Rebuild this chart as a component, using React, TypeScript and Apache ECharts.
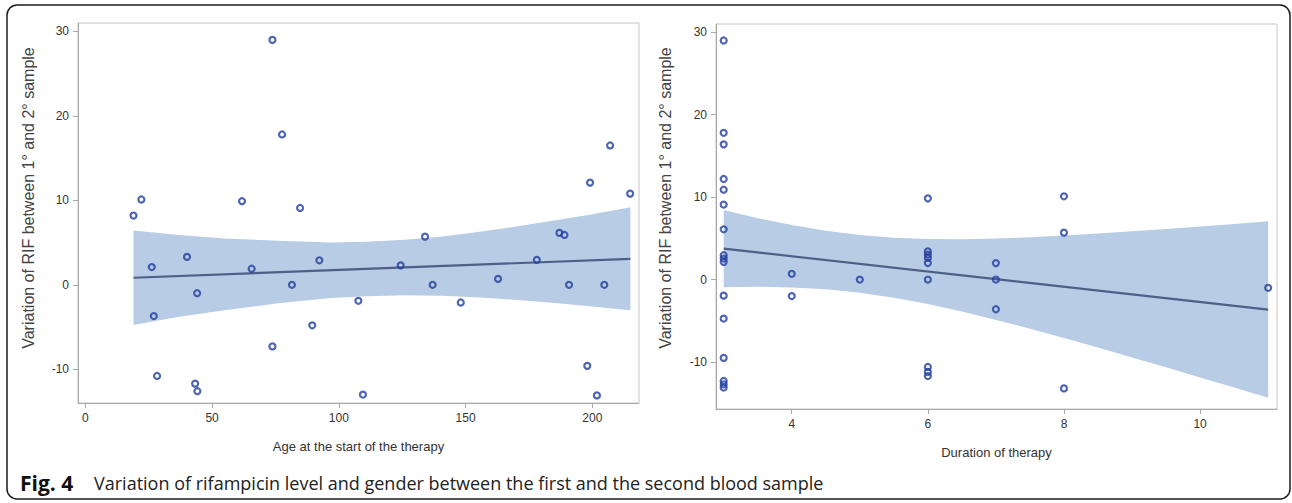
import React, { useEffect, useRef } from "react";
import * as echarts from "echarts";

// ---- Left panel: age at the start of therapy vs variation of RIF ----
const ageYears = [73.8, 77.6, 19.0, 22.1, 61.8, 84.7, 207, 199.1, 214.9, 134, 187, 189, 26.2, 40.1, 65.6, 81.5, 92.3, 44.1, 27, 89.5, 73.8, 28.3, 43.3, 44.2, 124.4, 178.1, 137, 162.8, 190.8, 204.7, 107.7, 148.1, 198, 109.5, 201.8];
const ageVariation = [29.0, 17.8, 8.2, 10.1, 9.9, 9.1, 16.5, 12.1, 10.8, 5.7, 6.15, 5.9, 2.1, 3.3, 1.9, 0.0, 2.9, -1.0, -3.7, -4.8, -7.3, -10.8, -11.7, -12.6, 2.3, 2.95, 0.0, 0.7, 0.0, 0.0, -1.9, -2.1, -9.6, -13.0, -13.1];
const ageFitX = [19, 215];
const ageFitY = [0.83, 3.07];
const ageBandX = [19, 37, 55, 76, 97, 111, 126, 140, 154, 168, 183, 199, 215];
const ageBandUpper = [6.43, 5.9, 5.49, 5.2, 5.0, 5.1, 5.34, 5.7, 6.22, 6.8, 7.51, 8.3, 9.17];
const ageBandLower = [-4.77, -3.8, -3.01, -2.2, -1.56, -1.35, -1.24, -1.3, -1.48, -1.75, -2.11, -2.55, -3.03];
const ageTicks = [0, 50, 100, 150, 200];

// ---- Right panel: duration of therapy vs variation of RIF ----
const durMonths = [3, 3, 3, 3, 3, 3, 3, 3, 3, 3, 3, 3, 3, 3, 3, 3, 4, 4, 5, 6, 6, 6, 6, 6, 6, 6, 6, 6, 7, 7, 7, 8, 8, 8, 11];
const durVariation = [29.0, 17.8, 16.4, 12.2, 10.9, 9.1, 6.1, 2.95, 2.55, 2.15, -1.95, -4.73, -9.5, -12.3, -12.7, -13.1, 0.7, -2.0, 0.0, 9.85, 3.43, 3.03, 2.62, 2.01, 0.0, -10.6, -11.2, -11.7, 2.0, 0.0, -3.6, 10.1, 5.7, -13.2, -1.0];
const durFitX = [3, 11];
const durFitY = [3.75, -3.64];
const durBandX = [3, 3.5, 4, 4.5, 5, 5.5, 6, 6.5, 7, 7.5, 8, 8.5, 9, 9.5, 10, 10.5, 11];
const durBandUpper = [8.44, 7.45, 6.62, 5.92, 5.4, 5.07, 4.93, 4.9, 4.99, 5.14, 5.35, 5.6, 5.86, 6.14, 6.44, 6.75, 7.06];
const durBandLower = [-0.94, -0.86, -0.96, -1.17, -1.6, -2.2, -2.97, -3.88, -4.89, -5.96, -7.09, -8.25, -9.44, -10.65, -11.88, -13.1, -14.34];
const durTicks = [4, 6, 8, 10];

const varTicks = [-10, 0, 10, 20, 30];

const yTitle = "Variation of RIF between 1° and 2° sample";
const xTitleLeft = "Age at the start of the therapy";
const xTitleRight = "Duration of therapy";
const captionBold = "Fig. 4";
const captionText = "Variation of rifampicin level and gender between the first and the second blood sample";

const AXIS_FONT = "'Liberation Sans', Arial, sans-serif";
const POINT_COLOR = "#223e9e";
const FIT_COLOR = "#4e5f88";
const BAND_COLOR = "#b8cce5";
const AXIS_COLOR = "#a8a8a8";

function makeAxis(ticks: number[], min: number, max: number, name: string, gap: number, nameSize: number) {
  return {
    type: "value",
    min,
    max,
    name,
    nameLocation: "middle",
    nameGap: gap,
    nameTextStyle: { color: "#333", fontSize: nameSize, fontFamily: AXIS_FONT },
    axisLine: { show: true, onZero: false, lineStyle: { color: AXIS_COLOR, width: 1 } },
    axisTick: { show: true, customValues: ticks, length: 5, lineStyle: { color: AXIS_COLOR } },
    axisLabel: { customValues: ticks, color: "#333", fontSize: 12, fontFamily: AXIS_FONT, margin: 9 },
    splitLine: { show: false },
  };
}

function bandSeries(xs: number[], lower: number[], upper: number[], idx: number) {
  return {
    type: "custom",
    xAxisIndex: idx,
    yAxisIndex: idx,
    data: [[xs[0], lower[0]]],
    silent: true,
    z: 1,
    renderItem: (_params: any, api: any) => {
      const top = xs.map((x, i) => api.coord([x, upper[i]]));
      const bottom = xs.map((x, i) => api.coord([x, lower[i]])).reverse();
      return {
        type: "polygon",
        shape: { points: top.concat(bottom) },
        style: { fill: BAND_COLOR, stroke: "none" },
      };
    },
  };
}

function fitSeries(xs: number[], ys: number[], idx: number) {
  return {
    type: "line",
    xAxisIndex: idx,
    yAxisIndex: idx,
    data: xs.map((x, i) => [x, ys[i]]),
    symbol: "none",
    lineStyle: { color: FIT_COLOR, width: 2.2 },
    silent: true,
    z: 2,
  };
}

function scatterSeries(xs: number[], ys: number[], idx: number) {
  return {
    type: "scatter",
    xAxisIndex: idx,
    yAxisIndex: idx,
    data: xs.map((x, i) => [x, ys[i]]),
    symbol: "circle",
    symbolSize: 6,
    itemStyle: { color: "rgba(255,255,255,0)", borderColor: POINT_COLOR, borderWidth: 2.2 },
    z: 3,
  };
}

export default function App() {
  const ref = useRef<HTMLDivElement>(null);
  useEffect(() => {
    if (!ref.current) return;
    const chart = echarts.init(ref.current, null, { renderer: "svg" });
    const option: any = {
      animation: false,
      backgroundColor: "#ffffff",
      grid: [
        { left: 78, top: 23, width: 561, height: 380, show: true, borderColor: "#c6c6c6", borderWidth: 1, containLabel: false, outerBoundsMode: "none" },
        { left: 716, top: 24, width: 561, height: 385, show: true, borderColor: "#c6c6c6", borderWidth: 1, containLabel: false, outerBoundsMode: "none" },
      ],
      xAxis: [
        { ...makeAxis(ageTicks, -2.9, 218.4, xTitleLeft, 37, 13), gridIndex: 0 },
        { ...makeAxis(durTicks, 2.887, 11.13, xTitleRight, 37, 13), gridIndex: 1 },
      ],
      yAxis: [
        { ...makeAxis(varTicks, -14, 31, "", 44, 15), gridIndex: 0 },
        { ...makeAxis(varTicks, -15.7, 31, "", 44, 15), gridIndex: 1 },
      ],
      series: [
        bandSeries(ageBandX, ageBandLower, ageBandUpper, 0),
        fitSeries(ageFitX, ageFitY, 0),
        scatterSeries(ageYears, ageVariation, 0),
        bandSeries(durBandX, durBandLower, durBandUpper, 1),
        fitSeries(durFitX, durFitY, 1),
        scatterSeries(durMonths, durVariation, 1),
      ],
      graphic: [
        {
          type: "rect",
          shape: { x: 7, y: 5, width: 1283, height: 494, r: 10 },
          style: { fill: "none", stroke: "#1c1c1c", lineWidth: 1.5 },
          silent: true,
          z: 0,
        },
        {
          type: "text",
          x: 28,
          y: 198,
          rotation: Math.PI / 2,
          style: { text: yTitle, fill: "#444", font: `16px ${AXIS_FONT}`, align: "center", verticalAlign: "middle" },
        },
        {
          type: "text",
          x: 665,
          y: 198,
          rotation: Math.PI / 2,
          style: { text: yTitle, fill: "#444", font: `16px ${AXIS_FONT}`, align: "center", verticalAlign: "middle" },
        },
        {
          type: "text",
          x: 20,
          y: 483,
          style: { text: captionBold, fill: "#111", font: "bold 21px 'Open Sans', 'Noto Sans', sans-serif", verticalAlign: "middle" },
        },
        {
          type: "text",
          x: 94,
          y: 483,
          style: { text: captionText, fill: "#222", font: "18px 'Open Sans', 'Noto Sans', sans-serif", verticalAlign: "middle" },
        },
      ],
    };
    chart.setOption(option);
    return () => chart.dispose();
  }, []);
  return (
    <div
      ref={ref}
      style={{ position: "fixed", left: 0, top: 0, width: 1292, height: 503, background: "#fff" }}
    />
  );
}
